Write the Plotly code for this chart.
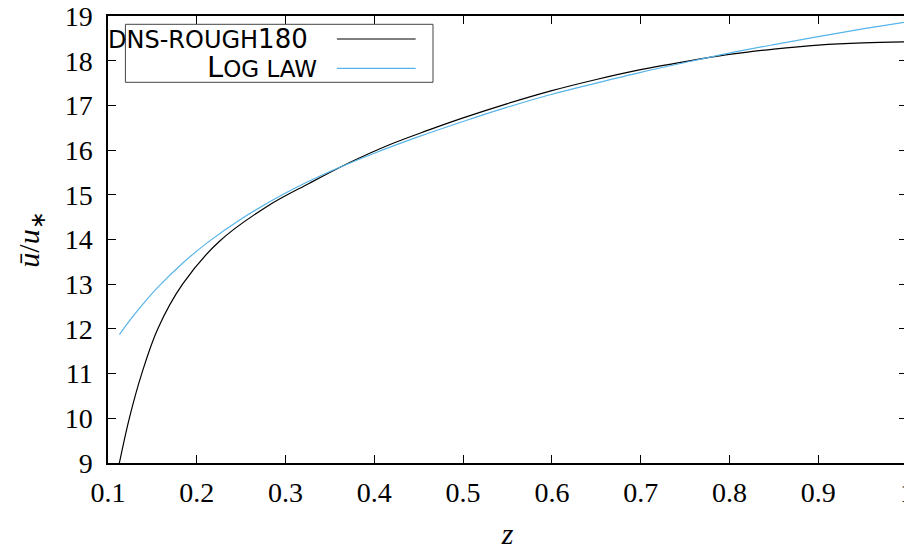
import plotly.graph_objects as go

# ---- data ----
z_dns = [0.1128, 0.124, 0.138, 0.156, 0.184, 0.225, 0.28, 0.327, 0.37, 0.417, 0.46,
         0.5, 0.55, 0.6, 0.65, 0.7, 0.75, 0.8, 0.85, 0.9, 0.95, 1.0]
u_dns = [9.0, 10.0, 11.0, 12.0, 13.0, 13.95, 14.75, 15.26, 15.70, 16.12, 16.44,
         16.72, 17.04, 17.33, 17.58, 17.80, 17.98, 18.14, 18.26, 18.35, 18.40, 18.42]

z_log = [0.1128, 0.125, 0.14, 0.156, 0.184, 0.212, 0.25, 0.3, 0.35, 0.4, 0.45,
         0.5, 0.55, 0.6, 0.65, 0.7, 0.75, 0.8, 0.85, 0.9, 0.95, 1.0]
u_log = [11.87, 12.20, 12.57, 12.93, 13.47, 13.93, 14.46, 15.04, 15.52, 15.93, 16.30,
         16.64, 16.96, 17.25, 17.50, 17.74, 17.96, 18.17, 18.36, 18.54, 18.71, 18.87]

x_tickvals = [0.1, 0.2, 0.3, 0.4, 0.5, 0.6, 0.7, 0.8, 0.9, 1.0]
x_ticktext = ["0.1", "0.2", "0.3", "0.4", "0.5", "0.6", "0.7", "0.8", "0.9", "1"]
y_tickvals = [9, 10, 11, 12, 13, 14, 15, 16, 17, 18, 19]
y_ticktext = [str(v) for v in y_tickvals]

# screen geometry (page body has an 8px margin)
OFF = 8
SW, SH = 912, 554
W, H = SW - OFF, SH - OFF
L, R, T, B = 108.3, 906.6, 15.7, 462.7   # plot area in screenshot pixels


def px(x):
    return (x - L) / (R - L)


def py(y):
    return (B - y) / (B - T)


SERIF = "Liberation Serif"
SANS = "DejaVu Sans"
BLUE = "#56B4E9"

fig = go.Figure()
fig.add_trace(go.Scatter(x=z_dns, y=u_dns, mode="lines",
                         line=dict(color="black", width=1.2, shape="spline", smoothing=1.0),
                         showlegend=False))
fig.add_trace(go.Scatter(x=z_log, y=u_log, mode="lines",
                         line=dict(color=BLUE, width=1.2, shape="spline", smoothing=1.0),
                         showlegend=False))

axis_common = dict(showline=True, linecolor="black", linewidth=1.5, mirror="ticks",
                   ticks="inside", ticklen=8, tickwidth=1, tickcolor="black",
                   showgrid=False, zeroline=False, ticklabeloverflow="allow",
                   tickfont=dict(family=SERIF, size=28, color="black"))

fig.update_layout(
    width=W, height=H,
    margin=dict(l=L - OFF, r=W - (R - OFF), t=T - OFF, b=H - (B - OFF), pad=0, autoexpand=False),
    plot_bgcolor="white", paper_bgcolor="white",
    xaxis=dict(range=[0.1, 1.0], tickvals=x_tickvals, ticktext=x_ticktext, ticklabelstandoff=4,
               title=dict(text="<i>z</i>", font=dict(family=SERIF, size=30, color="black"), standoff=16),
               **axis_common),
    yaxis=dict(range=[9, 19], tickvals=y_tickvals, ticktext=y_ticktext, ticklabelstandoff=8,
               title=dict(text="<i>\u016b</i>/<i>u</i><sub>\u2217</sub>",
                          font=dict(family=SERIF, size=30, color="black"), standoff=16),
               **axis_common),
)

# legend box (gnuplot style: text on the left, sample on the right)
fig.add_shape(type="rect", xref="paper", yref="paper",
              x0=px(125.7), x1=px(433), y0=py(82), y1=py(24),
              line=dict(color="#444444", width=1), fillcolor="white", layer="above")
fig.add_shape(type="line", xref="paper", yref="paper",
              x0=px(337), x1=px(415.7), y0=py(38.7), y1=py(38.7),
              line=dict(color="black", width=1.2), layer="above")
fig.add_shape(type="line", xref="paper", yref="paper",
              x0=px(337), x1=px(415.7), y0=py(68), y1=py(68),
              line=dict(color=BLUE, width=1.2), layer="above")
fig.add_annotation(xref="paper", yref="paper", x=px(310), y=py(39),
                   xanchor="right", yanchor="middle", showarrow=False,
                   text="<span style='font-size:24px'>DNS-ROUGH</span>180",
                   font=dict(family=SANS, size=26, color="black"))
fig.add_annotation(xref="paper", yref="paper", x=px(319), y=py(67),
                   xanchor="right", yanchor="middle", showarrow=False,
                   text="L<span style='font-size:23px'>OG LAW</span>",
                   font=dict(family=SANS, size=29, color="black"))

fig.write_html("out.html")
